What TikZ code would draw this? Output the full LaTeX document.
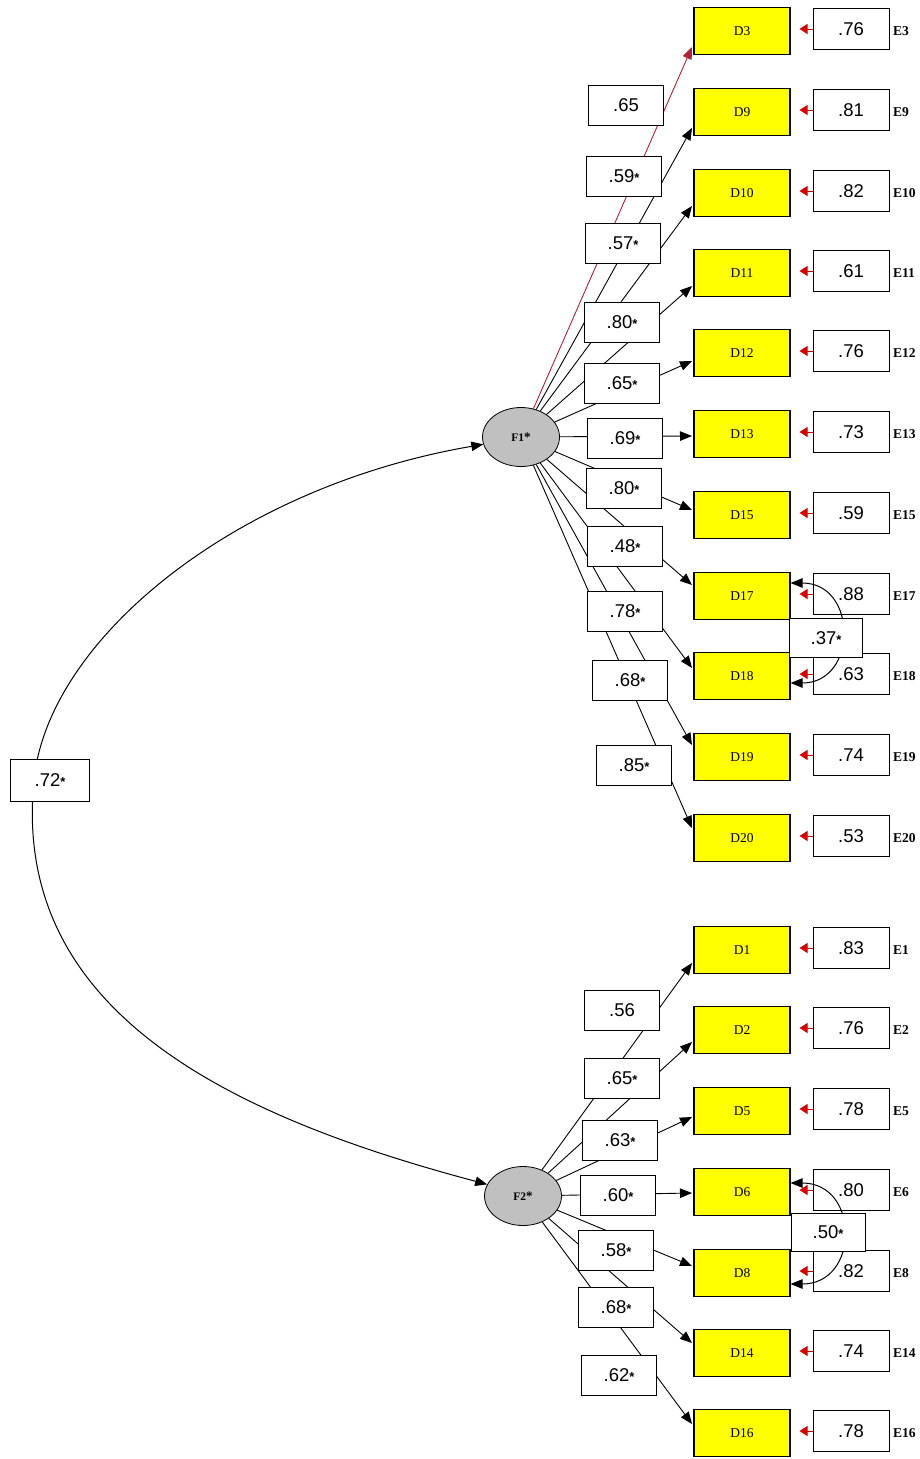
\documentclass[tikz,border=0pt]{standalone}
\usepackage{fontspec}
\setmainfont{Liberation Serif}
\newfontfamily\numfamily{Liberation Sans}
\usetikzlibrary{arrows.meta,shapes.geometric,calc}

\definecolor{obsyellow}{RGB}{255,255,0}
\definecolor{latentgray}{RGB}{192,192,192}
\definecolor{pathred}{RGB}{178,34,52}
\definecolor{tipred}{RGB}{215,0,0}

\newcommand\numfont{\numfamily\fontsize{18.5}{20}\selectfont}
\newcommand\sigstar{{\fontsize{13}{13}\selectfont\bfseries *}}

\tikzset{
  obs/.style={draw, line width=1.1pt, fill=obsyellow, minimum width=96pt,
    minimum height=47pt, inner sep=0pt, font=\fontsize{13.5}{14}\selectfont},
  errbox/.style={draw, line width=1pt, fill=white, minimum width=76pt,
    minimum height=41pt, inner sep=0pt, font=\numfont},
  coef/.style={draw, line width=1pt, fill=white, minimum width=75pt,
    minimum height=40pt, inner sep=0pt, font=\numfont},
  errname/.style={anchor=west, inner sep=0pt,
    font=\fontsize{13.5}{14}\selectfont\bfseries},
  latent/.style={ellipse, draw, line width=0.8pt, fill=latentgray,
    minimum width=77pt, minimum height=59pt, inner sep=0pt,
    font=\fontsize{11.5}{12}\selectfont\bfseries},
  load/.style={line width=0.9pt, -{Triangle[length=12pt,width=9.5pt]}},
  errtip/.style={draw=tipred, line width=1pt,
    -{Triangle[length=8pt,width=10pt,fill=tipred]}, shorten >=9pt},
  covar/.style={line width=1pt,
    {Triangle[length=12pt,width=9.5pt]}-{Triangle[length=12pt,width=9.5pt]}},
}

\begin{document}
\begin{tikzpicture}[x=1pt,y=-1pt]
\fill[white] (0,0) rectangle (920,1459);
\useasboundingbox (0,0) rectangle (920,1459);

% latent factors
\node[latent] (F1) at (521,437) {F1\sigstar};
\node[latent] (F2) at (523,1196) {F2\sigstar};

% first factor: indicators, error terms and loading paths
\foreach \n/\y/\tip/\ev/\col in {
  3/31/47/.76/pathred, 9/112/128/.81/black, 10/193/206/.82/black,
  11/273/286/.61/black, 12/353/361/.76/black, 13/434/436/.73/black,
  15/515/510/.59/black, 17/596/585/.88/black, 18/676/668/.63/black,
  19/757/745/.74/black, 20/838/828/.53/black}{
  \node[obs] (D\n) at (742,\y) {D\n};
  \node[errbox] (E\n) at (851,{\y-2}) {\ev};
  \node[errname] (N\n) at (893,\y) {E\n};
  \draw[errtip] (E\n.west) -- (E\n.west -| D\n.east);
  \coordinate (T\n) at (692,\tip);
  \draw[load, color=\col] (F1) -- (T\n);
}

% second factor: indicators, error terms and loading paths
\foreach \n/\y/\tip/\ev in {
  1/950/963/.83, 2/1030/1042/.76, 5/1111/1117/.78, 6/1192/1193/.80,
  8/1273/1266/.82, 14/1353/1343/.74, 16/1433/1424/.78}{
  \node[obs] (D\n) at (742,\y) {D\n};
  \node[errbox] (E\n) at (851,{\y-2}) {\ev};
  \node[errname] (N\n) at (893,\y) {E\n};
  \draw[errtip] (E\n.west) -- (E\n.west -| D\n.east);
  \coordinate (T\n) at (692,\tip);
  \draw[load] (F2) -- (T\n);
}

% standardized loadings
\foreach \n/\x/\y/\txt in {
  3/626/105/.65, 9/624/176/.59\sigstar, 10/623/243/.57\sigstar,
  11/622/322/.80\sigstar, 12/622/383/.65\sigstar, 13/625/438/.69\sigstar,
  15/624/488/.80\sigstar, 17/625/546/.48\sigstar, 18/625/611/.78\sigstar,
  19/630/680/.68\sigstar, 20/634/765/.85\sigstar,
  1/622/1010/.56, 2/622/1078/.65\sigstar, 5/620/1140/.63\sigstar,
  6/618/1195/.60\sigstar, 8/616/1250/.58\sigstar, 14/616/1307/.68\sigstar,
  16/619/1375/.62\sigstar}{
  \node[coef] (C\n) at (\x,\y) {\txt};
}

% correlated errors
\draw[covar] ($(D17.east)+(0,-13)$) .. controls (858,583) and (858,683) .. ($(D18.east)+(0,7)$);
\node[coef, minimum width=73pt, minimum height=39pt] (R17) at (826,638) {.37\sigstar};
\draw[covar] ($(D6.east)+(0,-9)$) .. controls (860,1183) and (860,1284) .. ($(D8.east)+(0,11)$);
\node[coef, minimum width=74pt, minimum height=38pt] (R6) at (828,1232) {.50\sigstar};

% factor correlation
\coordinate (K) at (34,780);
\draw[covar] (F1.191) .. controls (234,487) and (48,640) .. (K)
  .. controls (11,1010) and (226,1115) .. (F2.162);
\node[coef, minimum width=79pt, minimum height=42pt] (R12) at (50,780) {.72\sigstar};
\end{tikzpicture}
\end{document}
